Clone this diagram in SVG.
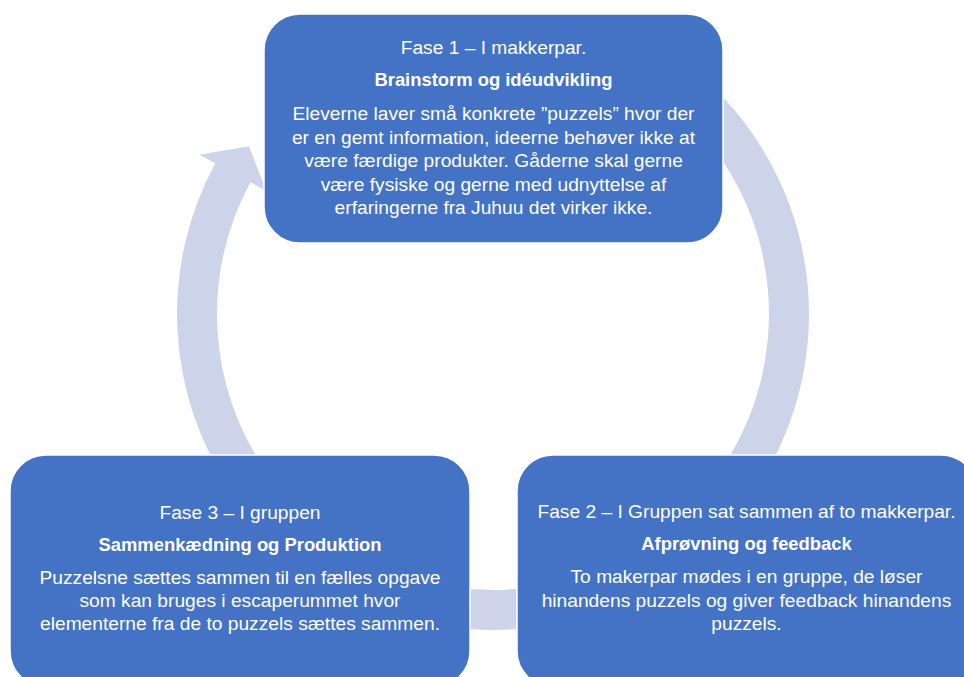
<svg xmlns="http://www.w3.org/2000/svg" width="964" height="677" viewBox="0 0 964 677">
<style>
.arc{fill:#CDD4EA;stroke:none}
.box{fill:#4472C4;stroke:#FFFFFF;stroke-width:1.5}
text{font-family:"Liberation Sans",Arial,sans-serif;font-size:19.2px;fill:#FFFFFF;text-anchor:middle}
.b{font-weight:bold;font-size:18.4px}
</style>
<rect width="964" height="677" fill="#FFFFFF"/>
<g id="connectors">
<path class="arc" d="M 716.45 90.55 A 316 316 0 0 1 751.85 495.25 L 719.09 472.31 A 276 276 0 0 0 688.16 118.84 Z"/>
<path class="arc" d="M 674.25 572.85 A 316 316 0 0 1 311.75 572.85 L 334.69 540.09 A 276 276 0 0 0 651.31 540.09 Z"/>
<path class="arc" d="M 234.15 495.25 A 316 316 0 0 1 215.29 163.22 L 199.47 154.63 L 249.06 146.34 L 266.26 190.89 L 250.45 182.30 A 276 276 0 0 0 266.91 472.31 Z"/>
</g>
<g id="fase1">
<rect class="box" x="264" y="14" width="459" height="229" rx="36"/>
<text x="493.5" y="54">Fase 1 – I makkerpar.</text>
<text class="b" x="493.5" y="86">Brainstorm og idéudvikling</text>
<text x="493.5" y="120">Eleverne laver små konkrete ”puzzels” hvor der</text>
<text x="493.5" y="143.5">er en gemt information, ideerne behøver ikke at</text>
<text x="493.5" y="167">være færdige produkter. Gåderne skal gerne</text>
<text x="493.5" y="190.5">være fysiske og gerne med udnyttelse af</text>
<text x="493.5" y="214">erfaringerne fra Juhuu det virker ikke.</text>
</g>
<g id="fase2">
<rect class="box" x="517" y="455" width="460" height="232" rx="36"/>
<text x="746.5" y="518">Fase 2 – I Gruppen sat sammen af to makkerpar.</text>
<text class="b" x="746.5" y="550">Afprøvning og feedback</text>
<text x="746.5" y="583">To makerpar mødes i en gruppe, de løser</text>
<text x="746.5" y="606.5">hinandens puzzels og giver feedback hinandens</text>
<text x="746.5" y="630">puzzels.</text>
</g>
<g id="fase3">
<rect class="box" x="10" y="455" width="460" height="232" rx="36"/>
<text x="240" y="519">Fase 3 – I gruppen</text>
<text class="b" x="240" y="551">Sammenkædning og Produktion</text>
<text x="240" y="584">Puzzelsne sættes sammen til en fælles opgave</text>
<text x="240" y="607">som kan bruges i escaperummet hvor</text>
<text x="240" y="630">elementerne fra de to puzzels sættes sammen.</text>
</g>
</svg>
